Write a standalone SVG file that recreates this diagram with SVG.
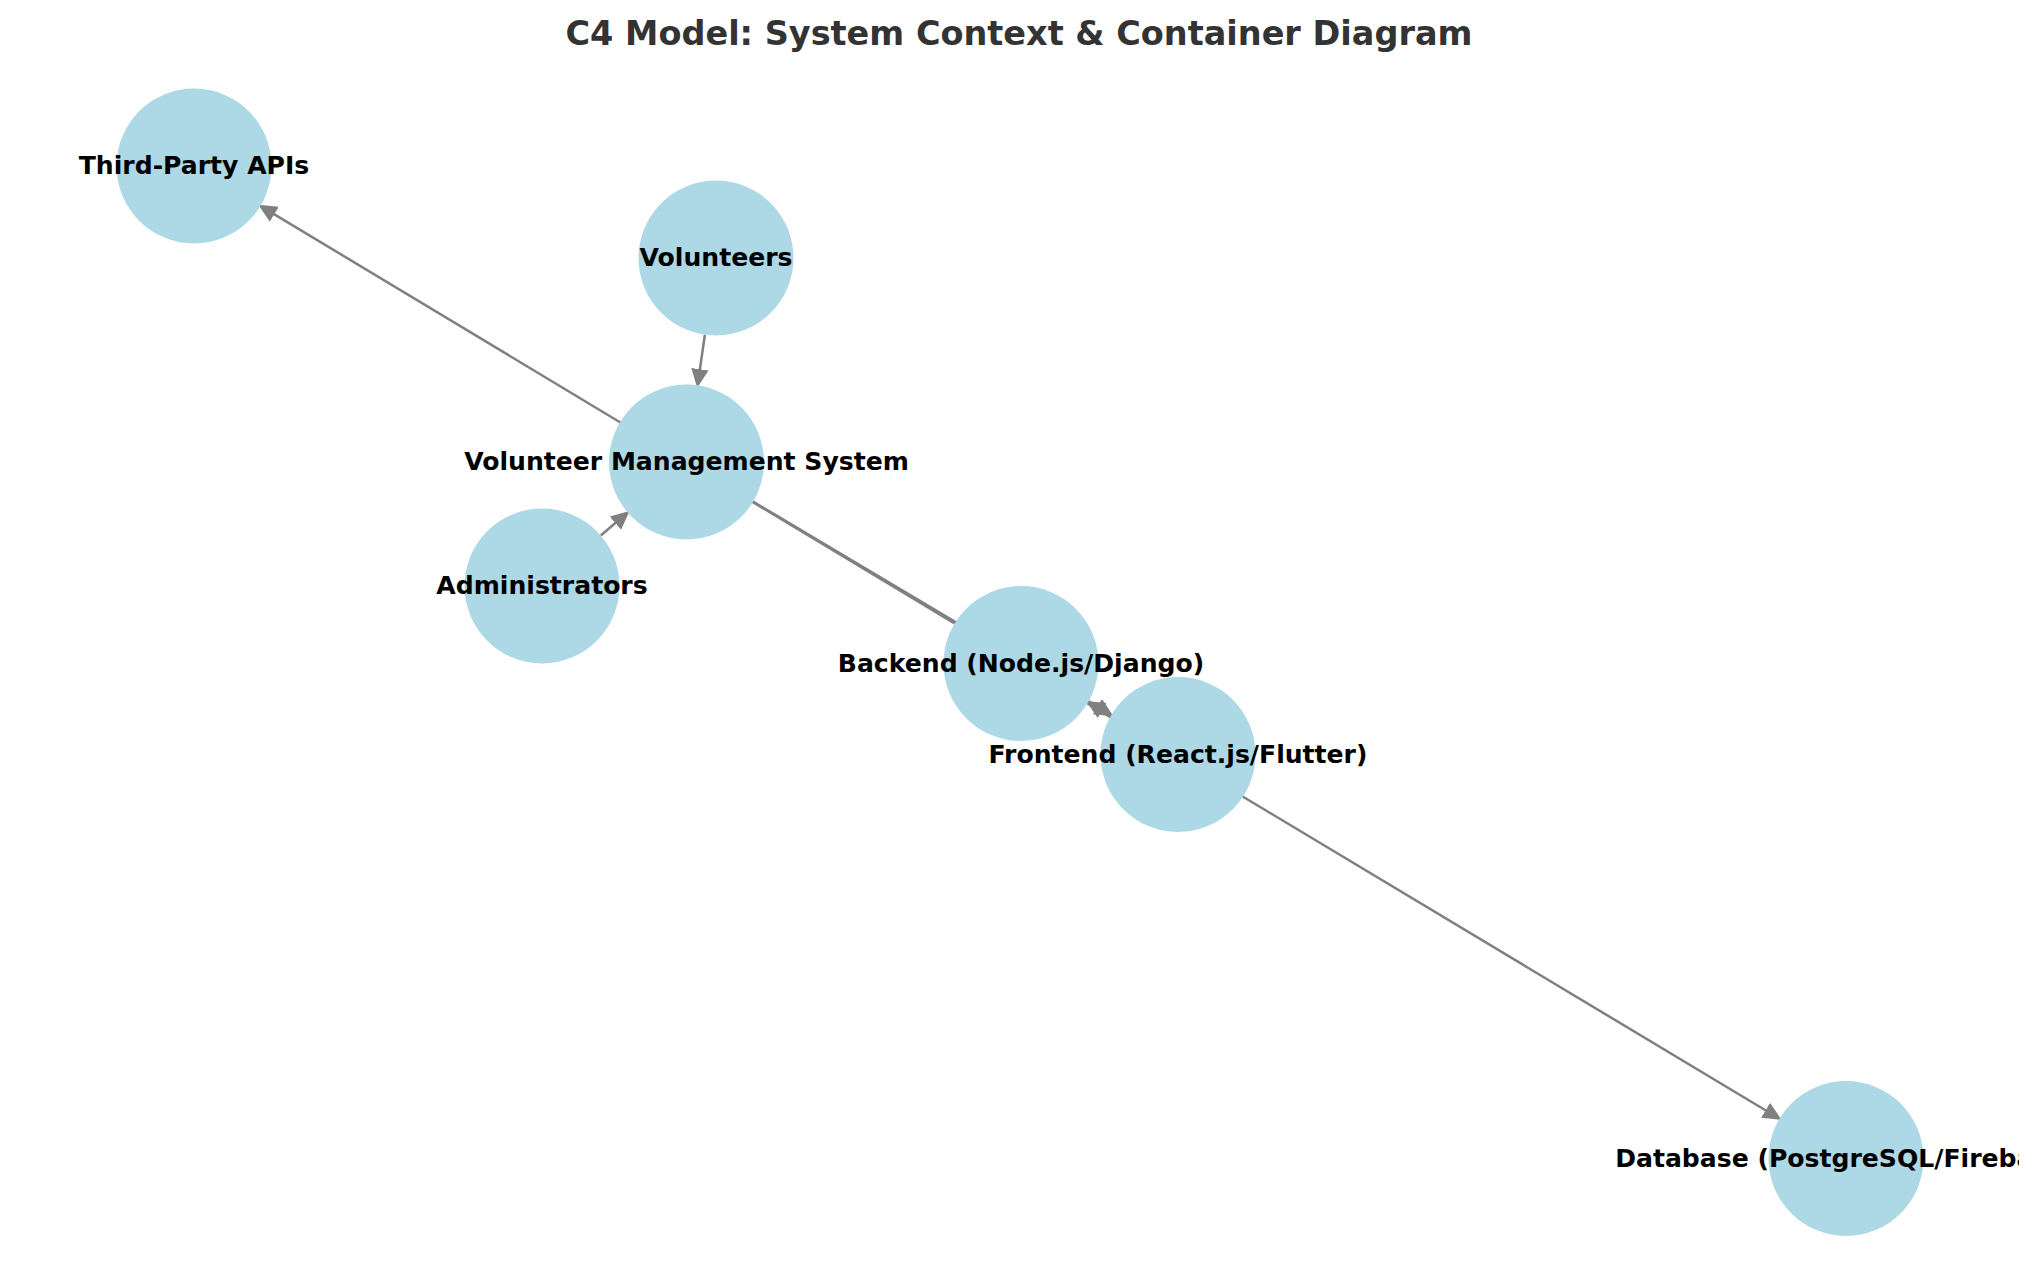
<svg xmlns="http://www.w3.org/2000/svg" width="2039" height="1282" viewBox="0 0 2039 1282">
<style>
.node{fill:#ADD8E6}
.lbl{font-family:"DejaVu Sans",sans-serif;font-weight:bold;font-size:25.1px;fill:#000;text-anchor:middle}
.title{font-family:"DejaVu Sans",sans-serif;font-weight:bold;font-size:33.5px;fill:#333333;text-anchor:middle}
.edge{stroke:#808080;stroke-width:2.5;fill:none;marker-end:url(#arr)}
</style>
<defs>
<marker id="arr" markerUnits="userSpaceOnUse" markerWidth="20" markerHeight="20" viewBox="0 -8 16 16" refX="5" refY="0" orient="auto">
<path d="M0,-7 L15,0 L0,7 z" fill="#808080"/>
</marker>
<clipPath id="axclip"><rect x="0" y="0" width="2019" height="1282"/></clipPath>
</defs>
<rect width="2039" height="1282" fill="#fff"/>
<text class="title" x="1019" y="45">C4 Model: System Context &amp; Container Diagram</text>
<g id="connectors">
<line class="edge" x1="704.9" y1="334.7" x2="699.0" y2="375.4"/>
<line class="edge" x1="600.8" y1="535.5" x2="620.1" y2="519.0"/>
<line class="edge" x1="954.6" y1="623.5" x2="269.0" y2="211.1"/>
<line class="edge" x1="753.1" y1="501.6" x2="1102.8" y2="709.8"/>
<line class="edge" x1="1110.9" y1="715.6" x2="1096.8" y2="707.4"/>
<line class="edge" x1="1087.5" y1="703.4" x2="1770.9" y2="1113.5"/>
</g>
<g id="node-thirdparty"><circle class="node" cx="194" cy="166" r="77.5"/></g>
<g id="node-volunteers"><circle class="node" cx="716" cy="258" r="77.5"/></g>
<g id="node-vms"><circle class="node" cx="686.5" cy="462" r="77.5"/></g>
<g id="node-admins"><circle class="node" cx="542" cy="586" r="77.5"/></g>
<g id="node-backend"><circle class="node" cx="1021" cy="663.5" r="77.5"/></g>
<g id="node-frontend"><circle class="node" cx="1178" cy="754.5" r="77.5"/></g>
<g id="node-database"><circle class="node" cx="1846" cy="1158.5" r="77.5"/></g>
<g id="labels" clip-path="url(#axclip)">
<text class="lbl" x="194" y="174">Third-Party APIs</text>
<text class="lbl" x="716" y="266">Volunteers</text>
<text class="lbl" x="686.5" y="470">Volunteer Management System</text>
<text class="lbl" x="542" y="594">Administrators</text>
<text class="lbl" x="1021" y="671.5">Backend (Node.js/Django)</text>
<text class="lbl" x="1178" y="762.5">Frontend (React.js/Flutter)</text>
<text class="lbl" x="1846" y="1167">Database (PostgreSQL/Firebase)</text>
</g>
</svg>
